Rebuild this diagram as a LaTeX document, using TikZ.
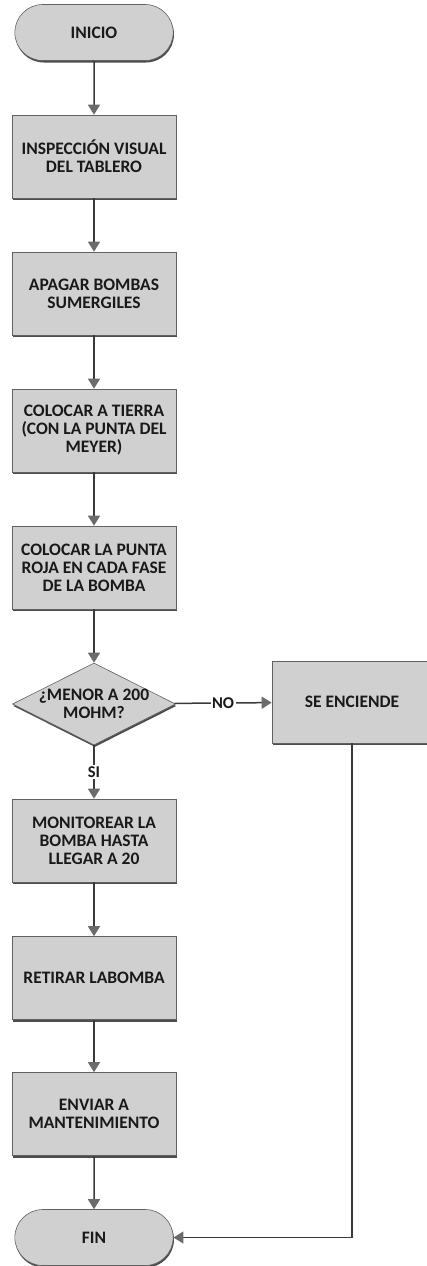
\documentclass[tikz,border=0pt]{standalone}
\usepackage{fontspec}
\setmainfont{Carlito}
\usetikzlibrary{arrows.meta,shapes.geometric,shapes.misc,shadows}
\definecolor{fcgray}{HTML}{D0D0D0}
\definecolor{fcline}{HTML}{3A3A3A}
\definecolor{fcshadow}{HTML}{3A3A3A}

\begin{document}
\begin{tikzpicture}[
    x=1pt, y=-1pt,
    base/.style={draw=fcline!80, line width=0.6pt, fill=fcgray, text=black!90, align=center,
      font=\fontsize{17.5}{18}\selectfont\bfseries,
      drop shadow={shadow xshift=0.8pt, shadow yshift=-2pt, fill=fcshadow, opacity=0.9}},
    proc/.style={base, rectangle, minimum width=164pt, minimum height=83pt, inner sep=2pt},
    term/.style={base, rounded rectangle, minimum width=165pt, minimum height=56pt},
    decision/.style={base, diamond, minimum width=163pt, minimum height=82pt, inner sep=0pt},
    txt/.style={align=center, text=black!90, font=\fontsize{17.5}{18}\selectfont\bfseries},
    lbl/.style={fill=white, inner sep=1.5pt, text=black!90, font=\fontsize{16.5}{18}\selectfont\bfseries},
    arrow/.style={-{Triangle[width=12pt,length=10pt,color=fcline!75]}, line width=1.5pt, draw=fcline}
  ]
    \useasboundingbox (0,0) rectangle (427,1266);

    % Start
    \node[term] (inicio) at (94, 32.5) {INICIO};

    % Main column
    \node[proc] (insp) at (94, 156.5) {INSPECCIÓN VISUAL\\DEL TABLERO};
    \draw[arrow] (inicio) -- (insp);

    \node[proc] (apagar) at (94, 293.5) {APAGAR BOMBAS\\SUMERGILES};
    \draw[arrow] (insp) -- (apagar);

    \node[proc] (tierra) at (94, 430.5) {COLOCAR A TIERRA\\(CON LA PUNTA DEL\\MEYER)};
    \draw[arrow] (apagar) -- (tierra);

    \node[proc] (punta) at (94, 567.5) {COLOCAR LA PUNTA\\ROJA EN CADA FASE\\DE LA BOMBA};
    \draw[arrow] (tierra) -- (punta);

    % Decision
    \node[decision] (menor) at (94, 704) {};
    \node[txt] (menortxt) at (menor) {¿MENOR A 200\\MOHM?};
    \draw[arrow] (punta) -- (menor);

    \node[proc, minimum width=160pt, minimum height=82pt] (enciende) at (352, 702) {SE ENCIENDE};
    \draw[arrow] (menor) -- node[lbl] {NO} (enciende);

    \node[proc] (monitor) at (94, 840.5) {MONITOREAR LA\\BOMBA HASTA\\LLEGAR A 20};
    \draw[arrow] (menor) -- node[lbl] {SI} (monitor);

    \node[proc] (retirar) at (94, 978) {RETIRAR LABOMBA};
    \draw[arrow] (monitor) -- (retirar);

    \node[proc] (enviar) at (94, 1114) {ENVIAR A\\MANTENIMIENTO};
    \draw[arrow] (retirar) -- (enviar);

    % End
    \node[term] (fin) at (94, 1237.5) {FIN};
    \draw[arrow] (enviar) -- (fin);
    \draw[arrow] (enciende) |- (fin);
  \end{tikzpicture}
\end{document}
